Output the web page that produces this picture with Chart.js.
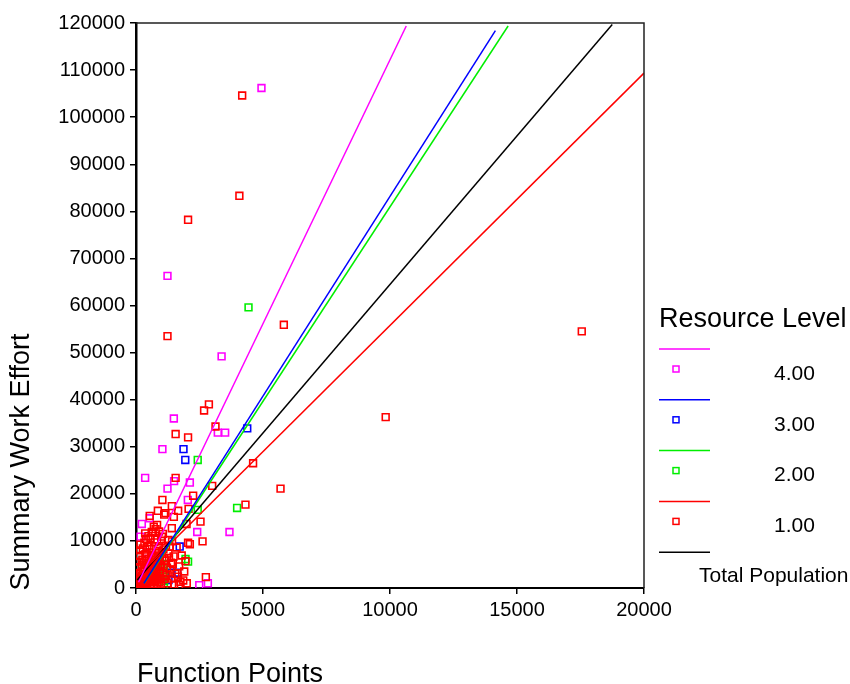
<!DOCTYPE html>
<html>
<head>
<meta charset="utf-8">
<title>Summary Work Effort by Function Points</title>
<script src="https://cdn.jsdelivr.net/npm/chart.js@4.4.0/dist/chart.umd.min.js"></script>
<style>
  html, body { margin: 0; padding: 0; background: #fff; }
  #wrap { width: 850px; height: 684px; }
</style>
</head>
<body>
<div id="wrap"><canvas id="mycanvas" width="850" height="684"></canvas></div>
<script>
// function points / summary work effort, one list per resource level
var level4 = [
  [4940,106200],[1240,66300],[3370,49200],[1490,36000],[3220,33000],[3510,33000],
  [1040,29500],[360,23400],[1500,22700],[2120,22400],[1240,21100],[2040,18700],
  [540,14800],[230,13600],[2410,11900],[3680,11900],[2830,1000],[2490,600],
  [180,10900],[420,7600],[150,3000]
];
var level3 = [
  [4380,33900],[1870,29500],[1940,27200],[1720,8800],[1400,3250],[1620,3250],
  [1280,1700],[400,1200],[900,2500]
];
var level2 = [
  [4430,59600],[2430,27200],[3980,17000],[2430,16600],[1950,6150],[2050,5600],
  [1100,600],[1100,1500],[1100,2400],[1100,3300],[1100,4200],[1100,5100],
  [100,1500],[300,4000]
];
var level1 = [
  [4180,104600],[4070,83300],[2050,78200],[1240,53500],[5820,55900],[17550,54500],
  [9830,36300],[2870,39000],[2680,37700],[3130,34300],[1560,32700],[2050,32000],
  [4610,26500],[5690,21100],[1560,23400],[3000,21700],[2250,19600],[1040,18700],
  [4310,17700],[2070,16800],[860,16400],[1410,17400],[1660,16400],[1160,15900],
  [1110,15600],[1490,15100],[2540,14100],[1990,13600],[700,13000],[1410,12700],
  [2620,9900],[2050,9600],[2120,9300],[1950,5700],[2750,2300],[1860,1600],
  [1690,600],[830,13400],[540,15300],[1280,10200],[1020,10900],[620,11900],[360,11600],
  // dense group near the origin
  [20,300],[40,800],[60,200],[80,1500],[100,500],[120,2200],[140,900],[160,3000],
  [180,1300],[200,400],[220,2600],[240,1800],[260,700],[280,3500],[300,1100],
  [320,2300],[340,4200],[360,600],[380,1600],[400,2900],[420,5000],[440,900],
  [460,3800],[480,2000],[500,6200],[520,1300],[540,4600],[560,2700],[580,300],
  [600,7000],[620,3300],[640,1700],[660,5500],[680,2400],[700,800],[720,4100],
  [740,6600],[760,1500],[780,3000],[800,5200],[820,600],[840,2200],[860,7800],
  [880,4500],[900,1200],[920,3600],[940,6000],[960,2600],[980,900],[1000,4900],
  [1050,3200],[1100,1900],[1150,5800],[1200,2800],[1250,1000],[1300,6400],
  [1350,3900],[1400,2000],[1450,5100],[1500,700],[1550,3000],[1600,8600],
  [1650,2400],[1700,4600],[1750,1300],[1800,6900],[1900,3500],[2000,1000],
  [30,1200],[50,2000],[70,3200],[90,4400],[110,5600],[130,6800],[150,8000],
  [170,9200],[190,600],[210,1700],[230,4900],[250,6000],[270,8400],[290,2800],
  [310,5400],[330,9600],[350,3600],[370,7200],[390,10400],[410,1400],[430,6700],
  [450,8800],[470,2500],[490,11000],[510,4100],[530,9000],[550,3300],[570,10600],
  [590,5900],[610,1200],[630,8300],[650,4000],[670,11800],[690,6300],[710,2900],
  [730,9700],[750,4400],[770,12500],[790,7400],[810,3400],[830,10300],[850,5600],
  [870,1800],[890,8900],[910,12000],[930,6900],[950,2100],[990,10000],[1020,7600],
  [1060,11500],[1080,8200],[1120,6300],[1180,9000],[1220,4300],[1280,7300],
  [1320,8800],[1380,5400],[1420,9900],[1480,6700]
];

// linear fit per group: slope, intercept, x range
var fitNames = ['4.00', '3.00', '2.00', '1.00', 'Total Population'];
var fitSlope = [11.21, 8.48, 8.26, 5.36, 6.31];
var fitIntercept = [90, -1630, -1640, 2160, 1380];
var fitFrom = [100, 310, 320, 50, 50];
var fitTo = [10640, 14150, 14650, 20000, 18750];
var colors = ['#FF00FF', '#0000FF', '#00EE00', '#FF0000', '#000000'];

var xTicks = [0, 5000, 10000, 15000, 20000];
var yMax = 120000;

function toPoints(list) {
  return list.map(function(p) { return { x: p[0], y: p[1] }; });
}

var datasets = [];
for (var i = 0; i < fitNames.length; i++) {
  datasets.push({
    label: 'Fit ' + fitNames[i],
    data: [
      { x: fitFrom[i], y: fitIntercept[i] + fitSlope[i] * fitFrom[i] },
      { x: fitTo[i], y: fitIntercept[i] + fitSlope[i] * fitTo[i] }
    ],
    showLine: true,
    borderColor: colors[i],
    borderWidth: 1.5,
    pointRadius: 0,
    fill: false
  });
}
var groups = [level1, level2, level3, level4];
var groupColors = [colors[3], colors[2], colors[1], colors[0]];
var groupNames = ['1.00', '2.00', '3.00', '4.00'];
for (var g = 0; g < groups.length; g++) {
  datasets.push({
    label: groupNames[g],
    data: toPoints(groups[g]),
    pointStyle: 'rect',
    pointRadius: 4.8,
    pointBorderWidth: 1.6,
    borderColor: groupColors[g],
    backgroundColor: 'rgba(0,0,0,0)',
    showLine: false
  });
}

var font = '"Liberation Sans", Arial, sans-serif';

var sideLegend = {
  id: 'sideLegend',
  afterDraw: function(chart) {
    var ctx = chart.ctx;
    var a = chart.chartArea;
    ctx.save();

    // top and right edges of the frame
    ctx.strokeStyle = '#222';
    ctx.lineWidth = 1.5;
    ctx.beginPath();
    ctx.moveTo(a.left, a.top);
    ctx.lineTo(a.right, a.top);
    ctx.lineTo(a.right, a.bottom);
    ctx.stroke();

    // axis titles
    ctx.fillStyle = '#000';
    ctx.textBaseline = 'middle';
    ctx.font = '27px ' + font;
    ctx.textAlign = 'left';
    ctx.fillText('Function Points', 137, 675);
    ctx.save();
    ctx.translate(22, 462);
    ctx.rotate(-Math.PI / 2);
    ctx.textAlign = 'center';
    ctx.fillText('Summary Work Effort', 0, 0);
    ctx.restore();

    // legend
    ctx.textAlign = 'left';
    ctx.fillText('Resource Level', 659, 320);
    ctx.font = '21px ' + font;
    for (var i = 0; i < fitNames.length; i++) {
      var ly = 349 + i * 50.8;
      ctx.strokeStyle = colors[i];
      ctx.lineWidth = 1.5;
      ctx.beginPath();
      ctx.moveTo(659, ly);
      ctx.lineTo(710, ly);
      ctx.stroke();
      if (i < 4) {
        ctx.strokeRect(673, ly + 17, 6, 6);
        ctx.fillText(fitNames[i], 774, ly + 25);
      } else {
        ctx.fillText(fitNames[i], 699, ly + 24);
      }
    }
    ctx.restore();
  }
};

var ctx = document.getElementById('mycanvas');
var chart = new Chart(ctx, {
  type: 'scatter',
  data: { datasets: datasets },
  options: {
    responsive: false,
    animation: false,
    devicePixelRatio: 1,
    layout: { padding: { top: 23, right: 206, left: 0, bottom: 0 } },
    plugins: {
      legend: { display: false },
      tooltip: { enabled: false }
    },
    scales: {
      x: {
        type: 'linear',
        min: 0,
        max: 20000,
        afterBuildTicks: function(scale) {
          scale.ticks = xTicks.map(function(v) { return { value: v }; });
        },
        afterFit: function(scale) { scale.height = 96; },
        ticks: {
          color: '#000',
          font: { size: 20, family: font },
          padding: 4,
          maxRotation: 0,
          callback: function(v) { return String(v); }
        },
        grid: { drawOnChartArea: false, color: '#000', tickLength: 6, lineWidth: 1.5 },
        border: { color: '#000', width: 2 }
      },
      y: {
        type: 'linear',
        min: 0,
        max: yMax,
        ticks: {
          stepSize: 10000,
          color: '#000',
          font: { size: 20, family: font },
          padding: 5,
          callback: function(v) { return String(v); }
        },
        afterFit: function(scale) { scale.width = 136; },
        grid: { drawOnChartArea: false, color: '#000', tickLength: 6, lineWidth: 1.5 },
        border: { color: '#000', width: 2.5 }
      }
    }
  },
  plugins: [sideLegend]
});
</script>
</body>
</html>
